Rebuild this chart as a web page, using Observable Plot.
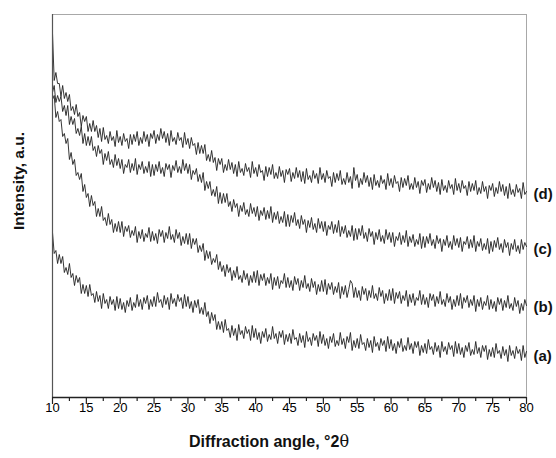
<!DOCTYPE html>
<html>
<head>
<meta charset="utf-8">
<script src="https://cdn.jsdelivr.net/npm/d3@7"></script>
<script src="https://cdn.jsdelivr.net/npm/@observablehq/plot@0.6"></script>
<style>
  html, body { margin: 0; padding: 0; background: #fff; }
  #chart svg { display: block; }
</style>
</head>
<body>
<div id="chart"></div>
<script>
// Diffraction angle sampling (°2θ): first angle and step of the scan
const angleStart = 10;
const angleStep = 0.25;

// Intensity (a.u.), one group per degree (4 samples each)
const seriesA = [
  165,144,147,134, 143,134,141,125, 130,123,134,120, 124,112,122,115, 120,104,113,104,
  112,101,113,102, 104,95,106,96, 102,89,104,94, 98,89,101,93, 98,87,101,89,
  99,88,95,85, 97,91,100,87, 95,90,103,91, 98,88,100,94, 102,88,98,91,
  101,91,105,95, 98,90,102,93, 100,88,104,94, 99,91,103,96, 100,89,103,91,
  101,89,96,85, 97,90,98,84, 90,83,95,81, 86,74,85,77, 83,68,76,68,
  76,65,78,67, 69,60,72,62, 69,57,73,63, 67,59,71,64, 68,57,72,60,
  69,58,65,54, 66,60,69,56, 63,58,71,59, 64,54,66,60, 67,53,63,56,
  64,54,68,58, 60,52,64,55, 62,50,66,56, 60,52,64,57, 62,51,66,54,
  63,52,59,49, 61,55,64,51, 57,52,65,53, 59,49,61,55, 65,47,57,50,
  59,49,63,53, 55,47,59,50, 57,45,61,51, 55,47,59,52, 57,46,61,49,
  58,47,54,44, 56,50,59,46, 52,47,60,48, 54,44,56,50, 56,42,52,45,
  54,44,58,48, 51,43,55,46, 52,40,56,46, 51,43,55,48, 52,41,56,44,
  54,43,50,40, 52,46,55,42, 48,43,56,44, 50,40,52,46, 52,38,48,41,
  50,40,54,44, 47,39,51,42, 48,36,52,42, 47,39,51,44, 48,37,52,40,
  46
];
const seriesB = [
  298,302,280,286, 276,278,261,264, 254,259,238,245, 233,238,222,225, 218,224,206,213,
  200,204,191,202, 192,196,181,189, 181,191,177,180, 172,184,173,178, 165,174,166,176,
  165,176,161,171, 166,172,160,167, 162,171,155,166, 159,168,156,164, 160,170,156,166,
  157,164,154,168, 161,167,155,165, 159,171,158,163, 155,168,159,165, 152,161,154,164,
  153,164,149,159, 153,159,145,152, 146,154,137,147, 139,146,133,139, 135,143,128,136,
  126,132,121,133, 125,130,117,127, 120,131,118,122, 115,127,118,124, 112,122,115,126,
  115,127,112,123, 117,124,112,120, 114,124,108,120, 112,121,109,117, 114,124,110,120,
  110,117,107,121, 113,119,107,117, 110,122,109,114, 106,119,110,116, 103,113,106,117,
  106,118,103,114, 108,115,103,111, 105,115,99,111, 103,112,100,108, 117,114,100,110,
  100,107,97,111, 103,109,97,107, 100,112,99,104, 97,110,101,107, 94,104,97,108,
  97,109,94,105, 99,106,94,102, 97,107,91,103, 95,104,92,100, 97,107,93,103,
  93,100,90,104, 97,103,91,101, 94,106,93,98, 91,104,95,101, 88,98,91,102,
  92,104,89,100, 95,102,90,98, 92,102,86,98, 91,100,88,96, 92,102,88,98,
  89,96,86,100, 93,99,87,97, 90,102,89,94, 87,100,91,97, 84,94,87,98,
  92
];
const seriesC = [
  305,312,295,302, 296,301,286,292, 282,292,273,281, 273,279,264,269, 262,271,254,264,
  252,261,252,261, 247,251,241,252, 244,248,233,244, 237,246,233,238, 230,243,232,239,
  229,238,224,233, 230,238,225,234, 227,239,223,233, 228,236,224,231, 225,236,221,233,
  222,233,226,236, 224,230,221,234, 228,233,220,232, 227,237,225,231, 224,238,227,234,
  224,233,218,227, 223,229,216,223, 215,225,207,216, 209,216,202,208, 201,211,194,205,
  194,204,195,204, 191,196,186,198, 190,194,181,192, 186,195,183,188, 181,194,184,190,
  181,191,177,187, 182,190,178,187, 179,191,175,185, 178,186,174,181, 175,186,171,183,
  171,182,175,185, 172,178,169,182, 173,178,165,177, 170,180,168,174, 165,179,169,176,
  166,176,162,172, 168,176,164,173, 165,177,161,171, 164,172,160,167, 161,172,157,169,
  158,169,162,172, 159,165,156,169, 161,166,153,165, 158,168,156,162, 154,168,158,165,
  155,165,151,161, 157,165,153,162, 155,167,151,161, 155,163,151,158, 153,164,149,161,
  150,161,154,164, 152,158,149,162, 154,159,146,158, 152,162,150,156, 148,162,152,159,
  150,160,146,156, 153,161,149,158, 150,162,146,156, 151,159,147,154, 148,159,144,156,
  146,157,150,160, 148,154,145,158, 150,155,142,154, 148,158,146,152, 144,158,148,155,
  151
];
const seriesD = [
  364,317,325,314, 314,301,312,299, 305,296,303,287, 291,283,293,281, 285,271,282,276,
  281,266,274,266, 277,266,272,260, 269,256,270,258, 262,254,266,257, 261,251,267,255,
  261,252,264,256, 259,249,263,253, 263,256,266,252, 260,254,266,256, 263,251,264,259,
  267,254,263,257, 269,259,266,255, 264,252,267,256, 260,253,265,257, 260,250,265,253,
  259,249,260,252, 254,243,255,244, 252,244,253,237, 243,236,247,235, 240,227,239,233,
  239,225,233,227, 238,228,235,224, 233,221,236,225, 229,222,234,226, 230,220,236,224,
  230,221,233,225, 227,217,231,221, 230,223,233,219, 225,219,231,221, 227,215,228,223,
  229,216,225,219, 230,220,227,216, 226,214,229,218, 222,215,227,219, 224,214,230,218,
  224,215,227,219, 221,211,225,215, 224,217,227,213, 219,213,225,215, 221,209,230,217,
  223,210,219,213, 225,215,222,211, 220,208,223,212, 217,210,222,214, 218,208,224,212,
  219,210,222,214, 216,206,220,210, 219,212,222,208, 214,208,220,210, 216,204,217,212,
  218,205,214,208, 220,210,217,206, 215,203,218,207, 212,205,217,209, 213,203,219,207,
  214,205,217,209, 212,202,216,206, 214,207,217,203, 210,204,216,206, 211,199,212,207,
  214,201,210,204, 216,206,213,202, 211,199,214,203, 208,201,213,205, 209,199,215,203,
  206
];

// Sample names and the height where each name sits at the right edge
const sampleNames = ["(a)", "(b)", "(c)", "(d)"];
const labelHeights = [41, 90, 148, 203];

// X axis ticks
const majorTicks = [10, 15, 20, 25, 30, 35, 40, 45, 50, 55, 60, 65, 70, 75, 80];
const minorTicks = [12.5, 17.5, 22.5, 27.5, 32.5, 37.5, 42.5, 47.5, 52.5, 57.5, 62.5, 67.5, 72.5, 77.5];

const allSeries = [seriesA, seriesB, seriesC, seriesD];
const rows = allSeries.flatMap((vals, s) =>
  vals.map((v, i) => ({ sample: sampleNames[s], angle: angleStart + i * angleStep, intensity: v }))
);
const labels = sampleNames.map((n, i) => ({ name: n, y: labelHeights[i] }));

const font = "'Liberation Sans', Arial, Helvetica, sans-serif";

const chart = Plot.plot({
  width: 556,
  height: 458,
  marginLeft: 52,
  marginRight: 30,
  marginTop: 14,
  marginBottom: 61,
  style: { fontFamily: font, fontSize: "13px", color: "#000", background: "#fff" },
  x: { domain: [10, 80], ticks: majorTicks, tickSize: 0, tickPadding: 5, label: null },
  y: { domain: [0, 383], axis: null },
  marks: [
    Plot.frame({ stroke: "#a8a8a8" }),
    Plot.line(rows, { x: "angle", y: "intensity", z: "sample", stroke: "#202020", strokeWidth: 0.9, curve: "linear" }),
    Plot.ruleX([10], { stroke: "#555", strokeWidth: 1.2 }),
    Plot.ruleY([0], { stroke: "#222", strokeWidth: 1.4 }),
    Plot.ruleX(majorTicks, { x: d => d, y1: 0, y2: -7, stroke: "#222", strokeWidth: 1.2 }),
    Plot.ruleX(minorTicks, { x: d => d, y1: 0, y2: -4, stroke: "#222", strokeWidth: 1.2 }),
    Plot.text(labels, { x: 80, y: "y", text: "name", dx: 7, textAnchor: "start", fontWeight: "bold", fontSize: 15, fill: "#111" })
  ]
});

document.getElementById("chart").appendChild(chart);

const svg = d3.select(chart);
const xt = svg.append("text")
  .attr("x", 269).attr("y", 447)
  .attr("text-anchor", "middle")
  .attr("font-family", font)
  .attr("font-size", 16)
  .attr("font-weight", "bold")
  .attr("fill", "#111");
xt.append("tspan").text("Diffraction angle, °2");
xt.append("tspan").attr("font-weight", "normal").attr("font-family", "'DejaVu Serif', 'Liberation Serif', serif").text("θ");

svg.append("text")
  .attr("transform", "translate(24,181) rotate(-90)")
  .attr("text-anchor", "middle")
  .attr("font-family", font)
  .attr("font-size", 15.5)
  .attr("font-weight", "bold")
  .attr("fill", "#111")
  .text("Intensity, a.u.");
</script>
</body>
</html>
